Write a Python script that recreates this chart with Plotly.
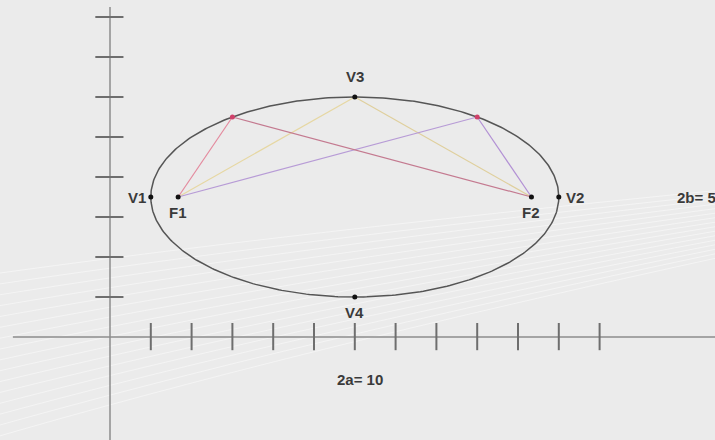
import numpy as np
import plotly.graph_objects as go

# ---- data ----
center_x, center_y = 6, 3.5
semi_a, semi_b = 5, 2.5
vertex_labels = ["V1", "V2", "V3", "V4"]
vertex_x = [1, 11, 6, 6]
vertex_y = [3.5, 3.5, 6, 1]
focus_labels = ["F1", "F2"]
focus_x = [1.67, 10.33]
focus_y = [3.5, 3.5]
point_x = [3, 9]
point_y = [5.5, 5.5]
x_ticks = list(range(1, 13))
y_ticks = list(range(1, 9))
major_label = "2a= 10"
minor_label = "2b= 5"

fig = go.Figure()

# background swooshes (decoration)
for i in range(16):
    y0 = 0.0 + i * 0.025
    fig.add_shape(type="path", xref="paper", yref="paper",
                  path=f"M -0.02,{y0:.3f} Q 0.4,{0.2 + i*0.018:.3f} 1.02,{0.42 + i*0.01:.3f}",
                  line=dict(color="rgba(255,255,255,0.45)", width=1), layer="below")

# axes
fig.add_trace(go.Scatter(x=[-2.38, 15], y=[0, 0], mode="lines",
                         line=dict(color="#8c8c8c", width=1.5), hoverinfo="skip"))
fig.add_trace(go.Scatter(x=[0, 0], y=[8.25, -3], mode="lines",
                         line=dict(color="#8c8c8c", width=1.5), hoverinfo="skip"))

# ticks
tx, ty = [], []
for v in x_ticks:
    tx += [v, v, None]
    ty += [0.35, -0.33, None]
fig.add_trace(go.Scatter(x=tx, y=ty, mode="lines",
                         line=dict(color="#6e6e6e", width=2), hoverinfo="skip"))
hx, hy = [], []
for v in y_ticks:
    hx += [-0.36, 0.33, None]
    hy += [v, v, None]
fig.add_trace(go.Scatter(x=hx, y=hy, mode="lines",
                         line=dict(color="#6e6e6e", width=2), hoverinfo="skip"))

# connecting lines
F1 = (focus_x[0], focus_y[0]); F2 = (focus_x[1], focus_y[1])
P1 = (point_x[0], point_y[0]); P2 = (point_x[1], point_y[1])
V3 = (vertex_x[2], vertex_y[2])
segments = [
    (F1, V3, "#e6d7a2"), (V3, F2, "#dfcf9c"),
    (F1, P2, "#b79bd6"), (P2, F2, "#b290d4"),
    (F1, P1, "#e48a9e"), (P1, F2, "#c47a90"),
]
for a, b, c in segments:
    fig.add_trace(go.Scatter(x=[a[0], b[0]], y=[a[1], b[1]], mode="lines",
                             line=dict(color=c, width=1.2), hoverinfo="skip"))

# ellipse
t = np.linspace(0, 2 * np.pi, 400)
fig.add_trace(go.Scatter(x=center_x + semi_a * np.cos(t), y=center_y + semi_b * np.sin(t),
                         mode="lines", line=dict(color="#555555", width=1.5), hoverinfo="skip"))

# points
fig.add_trace(go.Scatter(x=vertex_x + focus_x, y=vertex_y + focus_y, mode="markers",
                         marker=dict(color="#111111", size=5)))
fig.add_trace(go.Scatter(x=point_x, y=point_y, mode="markers",
                         marker=dict(color="#d0406a", size=5)))

font = dict(family="Liberation Sans, Arial", size=15, color="#3a3a3a", weight="bold")
shifts = {"V1": dict(xanchor="right", yanchor="middle", xshift=-3, yshift=0),
          "V2": dict(xanchor="left", yanchor="middle", xshift=5, yshift=0),
          "V3": dict(xanchor="center", yanchor="bottom", xshift=0, yshift=10),
          "V4": dict(xanchor="center", yanchor="top", xshift=0, yshift=-5)}
for lab, x, y in zip(vertex_labels, vertex_x, vertex_y):
    fig.add_annotation(x=x, y=y, text=lab, showarrow=False, font=font, **shifts[lab])
for lab, x, y in zip(focus_labels, focus_x, focus_y):
    fig.add_annotation(x=x, y=y, text=lab, showarrow=False, font=font,
                       xanchor="center", yanchor="top", yshift=-5)
fig.add_annotation(x=center_x, y=-1.07, text=major_label, showarrow=False, font=font,
                   xanchor="center", yanchor="middle", xshift=5)
fig.add_annotation(x=13.85, y=center_y, text=minor_label, showarrow=False, font=font,
                   xanchor="left", yanchor="middle")

fig.update_layout(
    width=715, height=440, margin=dict(l=0, r=0, t=0, b=0),
    showlegend=False,
    paper_bgcolor="#ebebeb", plot_bgcolor="#ebebeb",
    xaxis=dict(range=[-110 / 40.8, 605 / 40.8], visible=False, fixedrange=True),
    yaxis=dict(range=[-103 / 40, 337 / 40], visible=False, fixedrange=True),
)

fig.write_html("out.html", config={"displayModeBar": False},
               post_script="document.body.style.margin='0';document.body.style.overflow='hidden';")
